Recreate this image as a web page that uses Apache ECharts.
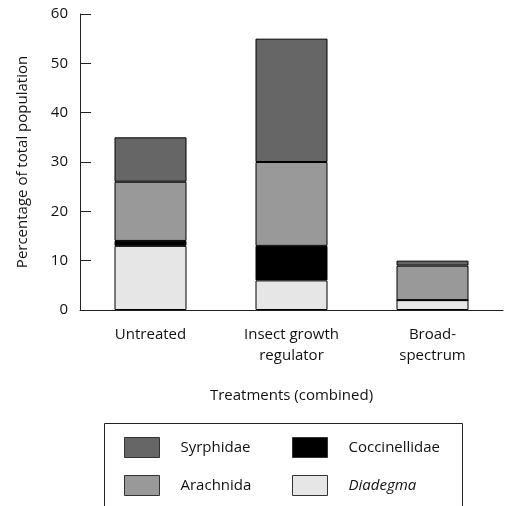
<!DOCTYPE html>
<html>
<head>
<meta charset="utf-8">
<script src="https://cdn.jsdelivr.net/npm/echarts@6/dist/echarts.min.js"></script>
<style>html,body{margin:0;padding:0;background:#fff}#c{width:505px;height:506px}</style>
</head>
<body>
<div id="c"></div>
<script>
var categories = ['Untreated', 'Insect growth\nregulator', 'Broad-\nspectrum'];
var diadegma = [13, 6, 2];
var coccinellidae = [1, 7, 0];
var arachnida = [12, 17, 7];
var syrphidae = [9, 25, 1];
var yTicks = [0, 10, 20, 30, 40, 50, 60];

var font = 'Open Sans';
var fs = 15;
var chart = echarts.init(document.getElementById('c'));
function ser(name, data, color) {
  return {
    name: name, type: 'bar', stack: 'all', data: data, barWidth: 72,
    itemStyle: { color: color, borderColor: '#000', borderWidth: 1 },
    emphasis: { disabled: true }
  };
}
var legendText = {
  fontFamily: font, fontSize: fs, color: '#111', padding: [0, 0, 0, 16],
  rich: { i: { fontStyle: 'italic', fontFamily: font, fontSize: fs, color: '#111' } }
};
function fmt(n) { return n === 'Diadegma' ? '{i|Diadegma}' : n; }
function leg(items, left) {
  return {
    data: items, orient: 'vertical', left: left, top: 437, height: 69, padding: 0,
    icon: 'rect', itemWidth: 35, itemHeight: 20, itemGap: 17,
    itemStyle: { borderWidth: 1, borderColor: '#333' },
    textStyle: legendText, formatter: fmt, selectedMode: false
  };
}
chart.setOption({
  animation: false,
  textStyle: { fontFamily: font },
  grid: { left: 80, right: 2, top: 14, bottom: 196 },
  xAxis: {
    type: 'category', data: categories,
    axisLine: { lineStyle: { color: '#222', width: 1 } },
    axisTick: { show: false },
    axisLabel: { fontFamily: font, fontSize: fs, color: '#111', margin: 14, lineHeight: 21 },
    name: 'Treatments (combined)', nameLocation: 'middle', nameGap: 78,
    nameTextStyle: { fontFamily: font, fontSize: fs, color: '#111' }
  },
  yAxis: {
    type: 'value', min: yTicks[0], max: yTicks[yTicks.length - 1], interval: 10,
    splitLine: { show: false },
    axisLine: { show: true, lineStyle: { color: '#222', width: 1 } },
    axisTick: { show: true, inside: true, length: 11, lineStyle: { color: '#222' } },
    axisLabel: { fontFamily: font, fontSize: fs, color: '#111', margin: 12 },
    name: 'Percentage of total population', nameLocation: 'middle', nameGap: 50,
    nameTextStyle: { fontFamily: font, fontSize: fs, color: '#111' }
  },
  legend: [
    leg(['Syrphidae', 'Arachnida'], 124),
    leg(['Coccinellidae', 'Diadegma'], 292)
  ],
  graphic: [{
    type: 'rect', shape: { x: 104.5, y: 423.5, width: 358, height: 100 },
    style: { fill: 'none', stroke: '#222', lineWidth: 1 }, z: -1
  }],
  series: [
    ser('Diadegma', diadegma, '#e6e6e6'),
    ser('Coccinellidae', coccinellidae, '#000000'),
    ser('Arachnida', arachnida, '#999999'),
    ser('Syrphidae', syrphidae, '#666666')
  ]
});
</script>
</body>
</html>
